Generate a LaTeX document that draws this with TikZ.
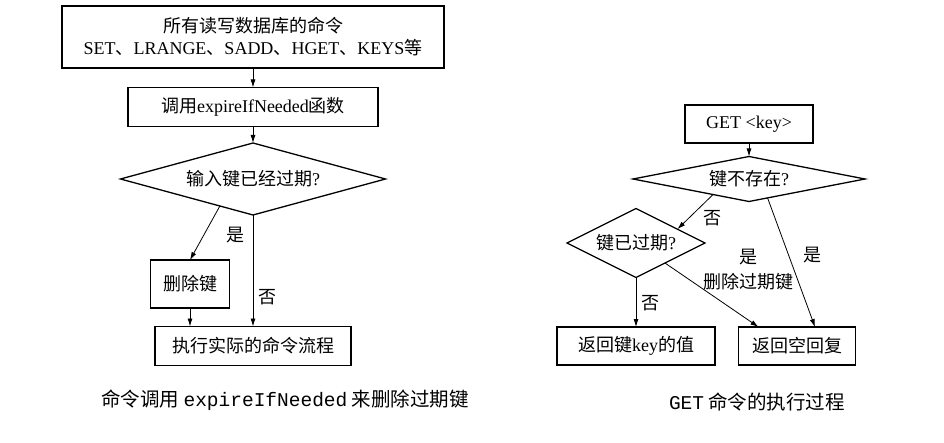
\documentclass[tikz,border=0pt]{standalone}
\usepackage{fontspec}
\setmainfont{Liberation Serif}
\setmonofont{Liberation Mono}
\newfontfamily\zh{Noto Sans CJK SC}
\usepackage{tikz}
\usetikzlibrary{arrows.meta, calc, positioning, shapes.geometric}

\newcommand{\lat}[1]{{\rmfamily #1}}

\tikzset{
  box/.style     = {draw, rectangle, line width=1.3pt, inner sep=0pt, outer sep=0pt, font=\zh\fontsize{18}{22}\selectfont},
  dia/.style     = {draw, diamond  , line width=1.3pt, inner sep=0pt, outer sep=0pt, font=\zh\fontsize{18}{22}\selectfont},
  lbl/.style     = {inner sep=0pt, font=\zh\fontsize{18}{22}\selectfont},
  captext/.style = {inner sep=0pt, font=\zh\fontsize{19.5}{22}\selectfont},
  tip/.style     = {line width=0.8pt, -{Latex[length=8pt, width=5pt]}},
}

\begin{document}
\begin{tikzpicture}[x=1pt, y=1pt]
\useasboundingbox (0,0) rectangle (944,442);

\node [box, minimum width=382pt, minimum height=62pt, align=center                       ] (cmds) at (253,405) {所有读写数据库的命令\\\lat{SET}、\lat{LRANGE}、\lat{SADD}、\lat{HGET}、\lat{KEYS}等};
\node [box, node distance=70pt , below of=cmds, minimum width=250pt, minimum height=39pt ] (call) {调用\lat{expireIfNeeded}函数};
\node [dia, node distance=72pt , below of=call, aspect=3.68, minimum width=265pt, minimum height=72pt] (chk) {输入键已经过期\lat{?}};
\node [box, node distance=105pt, below of=chk , xshift=-63pt, minimum width=79pt, minimum height=48pt] (del) {删除键};
\node [box, node distance=167pt, below of=chk , minimum width=196pt, minimum height=39pt ] (exec) {执行实际的命令流程};

\draw [tip] (cmds) -- (call);
\draw [tip] (call) -- (chk);
\draw [tip] ($(chk.south)!0.25!(chk.west)$) -- (del.north);
\draw [tip] (chk.south) -- (exec.north);
\draw [tip] (del.south) -- (del.south |- exec.north);

\node [lbl] (yesdel) at (235,207) {是};
\node [lbl] (noexec) at (267,145) {否};

\node [box, minimum width=128pt, minimum height=38pt                                     ] (get)   at (749,318) {\lat{GET <key>}};
\node [dia, node distance=55pt , below of=get  , aspect=5.16, minimum width=232pt, minimum height=45pt] (nokey) {键不存在\lat{?}};
\node [dia, node distance=64pt , below of=nokey, xshift=-113pt, aspect=2, minimum width=138pt, minimum height=69pt] (expd) {键已过期\lat{?}};
\node [box, node distance=103pt, below of=expd , minimum width=158pt, minimum height=38pt] (val)   {返回键\lat{key}的值};
\node [box, node distance=161pt, right of=val  , minimum width=117pt, minimum height=38pt] (nil)   {返回空回复};

\draw [tip] (get) -- (nokey);
\draw [tip] ($(nokey.south)!0.31!(nokey.west)$) -- ($(expd.north)!0.6!(expd.east)$);
\draw [tip] ($(nokey.south)!0.16!(nokey.east)$) -- ([xshift=18pt]nil.north);
\draw [tip] ($(expd.south)!0.42!(expd.east)$) -- ([xshift=20pt]nil.north west);
\draw [tip] (expd.south) -- (val.north);

\node [lbl] (noexp)  at (712,224) {否};
\node [lbl] (yesnil) at (812,187) {是};
\node [lbl] (yesexp) at (748,185) {是};
\node [lbl] (delexp) at (748,160) {删除过期键};
\node [lbl] (noval)  at (650,139) {否};

\node [captext] (capl) at (285,42) {命令调用 \texttt{expireIfNeeded} 来删除过期键};
\node [captext] (capr) at (757,40) {\texttt{GET} 命令的执行过程};

\end{tikzpicture}
\end{document}
